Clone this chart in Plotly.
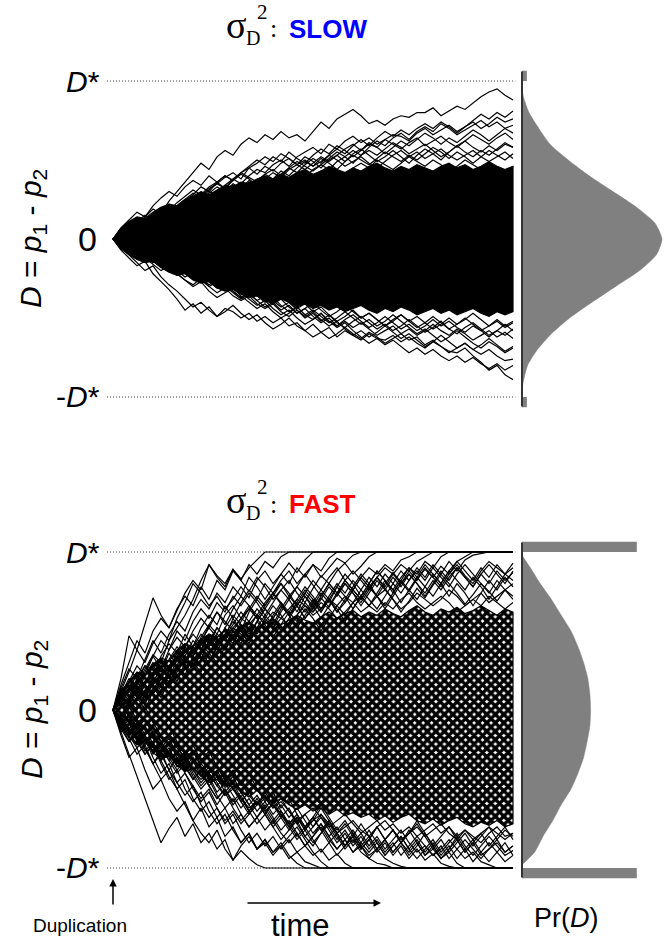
import plotly.graph_objects as go

# ---------------------------------------------------------------------------
# Data (D values in hundredths of D*, one value per time step 0..50)
# ---------------------------------------------------------------------------

# Slow divergence: envelope of the dense bundle of trajectories
SLOW_CORE_UPPER = [0, 7, 11, 14, 13, 17, 20, 22, 21, 25,
                   27, 30, 28, 31, 34, 33, 36, 35, 38, 40,
                   38, 41, 39, 42, 44, 41, 43, 46, 44, 42,
                   45, 43, 46, 48, 45, 43, 46, 44, 47, 45,
                   43, 46, 48, 45, 47, 44, 46, 49, 46, 44,
                   46]
SLOW_CORE_LOWER = [0, -6, -10, -13, -15, -14, -18, -21, -23, -22,
                   -26, -28, -27, -31, -33, -32, -35, -37, -36, -39,
                   -41, -38, -40, -43, -41, -44, -42, -45, -43, -46,
                   -44, -42, -45, -47, -44, -46, -43, -45, -48, -46,
                   -44, -47, -45, -48, -46, -44, -47, -49, -46, -48,
                   -46]

# Slow divergence: individual trajectories
SLOW_PATHS = [
    [0, 6, 10, 8, 14, 19, 16, 24, 30, 36,
     42, 48, 44, 52, 56, 53, 60, 64, 61, 66,
     63, 68, 64, 66, 62, 68, 74, 70, 76, 79,
     82, 78, 73, 75, 72, 76, 78, 77, 80, 80,
     83, 78, 81, 84, 82, 86, 90, 93, 95, 91,
     88],
    [0, -4, 2, 6, 4, 10, 14, 12, 18, 22,
     20, 26, 30, 28, 34, 38, 35, 40, 44, 42,
     47, 50, 46, 52, 55, 58, 54, 60, 57, 62,
     65, 61, 64, 60, 63, 66, 65, 62, 67, 70,
     66, 69, 72, 68, 71, 74, 70, 73, 77, 74,
     76],
    [0, 5, 3, 9, 13, 10, 17, 21, 18, 24,
     28, 33, 30, 36, 40, 37, 42, 46, 50, 47,
     52, 49, 55, 51, 48, 53, 57, 54, 59, 56,
     52, 56, 60, 58, 63, 60, 57, 61, 64, 59,
     62, 65, 61, 58, 62, 66, 63, 60, 64, 67,
     63],
    [0, 3, 7, 5, 11, 15, 12, 16, 21, 25,
     22, 27, 31, 35, 32, 38, 42, 39, 36, 41,
     44, 40, 45, 49, 46, 43, 47, 51, 55, 52,
     48, 53, 56, 53, 57, 61, 58, 54, 57, 60,
     56, 52, 55, 59, 62, 58, 55, 59, 56, 60,
     58],
    [0, -3, 1, 4, 2, 7, 10, 8, 13, 16,
     14, 19, 17, 22, 25, 23, 27, 30, 28, 33,
     36, 34, 38, 41, 39, 44, 47, 44, 49, 52,
     56, 53, 58, 62, 59, 64, 67, 63, 68, 71,
     68, 73, 70, 66, 69, 72, 75, 71, 74, 70,
     72],
    [0, 4, 8, 12, 9, 14, 18, 22, 19, 25,
     29, 27, 32, 35, 39, 42, 38, 45, 48, 52,
     49, 54, 51, 47, 50, 46, 49, 53, 50, 46,
     49, 52, 48, 45, 49, 53, 56, 52, 55, 51,
     54, 57, 53, 50, 53, 56, 52, 49, 52, 55,
     51],
    [0, 7, 12, 17, 14, 21, 26, 30, 27, 33,
     37, 34, 40, 36, 32, 37, 41, 38, 34, 30,
     34, 38, 35, 31, 36, 40, 43, 40, 37, 41,
     45, 48, 45, 50, 47, 44, 48, 52, 49, 46,
     50, 47, 43, 46, 50, 47, 44, 48, 45, 42,
     46],
    [0, 5, 9, 13, 10, 16, 20, 18, 23, 27,
     31, 28, 33, 36, 40, 37, 42, 45, 41, 46,
     43, 48, 51, 47, 52, 49, 45, 50, 53, 49,
     54, 57, 53, 49, 52, 56, 52, 48, 53, 57,
     54, 50, 55, 59, 55, 52, 56, 53, 57, 61,
     58],
    [0, 4, 2, 7, 11, 8, 13, 17, 14, 19,
     23, 20, 25, 29, 26, 31, 35, 32, 37, 41,
     38, 43, 40, 45, 49, 46, 51, 48, 44, 49,
     53, 50, 47, 51, 55, 52, 49, 53, 50, 54,
     58, 55, 51, 55, 52, 48, 52, 56, 53, 50,
     54],
    [0, 6, 4, 9, 7, 12, 16, 13, 18, 15,
     20, 24, 21, 26, 30, 34, 31, 36, 33, 38,
     42, 39, 44, 47, 44, 48, 52, 49, 53, 57,
     60, 56, 61, 58, 54, 58, 62, 59, 63, 67,
     64, 60, 64, 61, 65, 69, 66, 62, 66, 70,
     67],
    [0, 3, 7, 11, 15, 12, 17, 14, 19, 23,
     27, 24, 29, 33, 30, 35, 32, 37, 34, 39,
     36, 41, 45, 42, 47, 51, 48, 53, 57, 54,
     59, 63, 59, 64, 68, 65, 69, 66, 70, 73,
     70, 74, 71, 67, 71, 75, 79, 76, 80, 77,
     81],
    [0, -7, -12, -17, -14, -22, -27, -32, -38, -45,
     -41, -47, -43, -49, -44, -46, -50, -47, -52, -49,
     -53, -50, -55, -53, -58, -54, -59, -56, -62, -58,
     -61, -64, -60, -63, -64, -61, -65, -62, -66, -69,
     -65, -68, -71, -72, -69, -74, -78, -83, -80, -86,
     -89],
    [0, -4, -1, -6, -10, -7, -12, -16, -13, -19,
     -23, -20, -26, -30, -27, -33, -37, -34, -39, -43,
     -40, -45, -42, -47, -44, -49, -53, -50, -55, -52,
     -56, -53, -57, -61, -58, -55, -60, -64, -62, -67,
     -64, -68, -72, -69, -66, -70, -73, -70, -74, -77,
     -76],
    [0, -6, -10, -15, -20, -17, -24, -29, -33, -38,
     -43, -40, -45, -49, -46, -42, -47, -51, -48, -53,
     -57, -54, -50, -55, -58, -62, -59, -63, -60, -56,
     -60, -63, -59, -62, -66, -63, -60, -57, -61, -58,
     -54, -58, -61, -57, -60, -64, -61, -58, -62, -59,
     -63],
    [0, 3, -2, -5, -3, -8, -12, -9, -14, -18,
     -15, -20, -24, -21, -26, -30, -34, -31, -36, -40,
     -37, -42, -46, -43, -48, -51, -47, -52, -55, -51,
     -48, -52, -56, -53, -49, -53, -57, -54, -58, -55,
     -51, -55, -52, -56, -59, -55, -58, -62, -58, -61,
     -57],
    [0, -5, -9, -6, -11, -15, -12, -18, -22, -26,
     -30, -27, -33, -37, -34, -31, -36, -40, -44, -41,
     -46, -50, -47, -43, -48, -45, -49, -53, -50, -46,
     -50, -54, -51, -55, -52, -48, -52, -56, -60, -57,
     -61, -65, -62, -58, -62, -66, -69, -65, -68, -72,
     -69],
    [0, -3, -7, -11, -8, -13, -10, -15, -19, -16,
     -21, -25, -29, -26, -30, -34, -38, -35, -39, -36,
     -41, -38, -43, -47, -44, -40, -45, -49, -46, -42,
     -46, -50, -47, -51, -55, -52, -48, -52, -49, -53,
     -57, -54, -50, -54, -51, -47, -51, -55, -52, -56,
     -53],
    [0, -5, -9, -7, -12, -16, -20, -17, -22, -26,
     -29, -25, -30, -34, -31, -36, -39, -36, -41, -44,
     -41, -46, -49, -45, -50, -47, -52, -48, -53, -56,
     -52, -49, -53, -57, -54, -58, -55, -51, -55, -59,
     -56, -52, -57, -60, -56, -53, -57, -61, -58, -54,
     -58],
    [0, -3, -8, -5, -10, -14, -11, -16, -13, -18,
     -22, -19, -24, -28, -25, -30, -27, -32, -36, -33,
     -38, -35, -40, -44, -41, -46, -43, -48, -52, -49,
     -45, -50, -47, -51, -55, -51, -48, -52, -56, -53,
     -49, -53, -57, -54, -50, -54, -58, -55, -51, -55,
     -52],
    [0, -6, -4, -9, -13, -10, -15, -19, -23, -20,
     -25, -22, -27, -31, -28, -33, -37, -34, -30, -35,
     -39, -43, -40, -45, -49, -46, -51, -55, -52, -57,
     -61, -58, -62, -59, -55, -59, -63, -60, -64, -68,
     -65, -61, -65, -69, -66, -70, -67, -63, -67, -71,
     -68],
    [0, -4, -8, -12, -9, -14, -18, -15, -20, -24,
     -21, -26, -30, -27, -32, -29, -34, -38, -42, -39,
     -44, -48, -45, -50, -54, -51, -47, -52, -56, -53,
     -58, -62, -66, -63, -67, -64, -68, -72, -69, -73,
     -70, -74, -77, -74, -78, -75, -79, -82, -79, -83,
     -80],
]

# Fast divergence: envelope of the dense bundle
FAST_CORE_UPPER = [0, 12, 18, 24, 22, 29, 33, 31, 38, 42,
                   40, 45, 48, 46, 51, 49, 53, 56, 52, 55,
                   58, 54, 57, 60, 57, 55, 59, 62, 58, 61,
                   63, 59, 62, 60, 64, 61, 59, 63, 66, 62,
                   60, 64, 62, 65, 61, 63, 66, 63, 60, 64,
                   62]
FAST_CORE_LOWER = [0, -11, -17, -22, -20, -27, -31, -29, -35, -39,
                   -37, -42, -46, -44, -49, -47, -52, -55, -51, -56,
                   -59, -56, -60, -63, -60, -64, -62, -66, -63, -67,
                   -65, -68, -66, -70, -67, -71, -68, -66, -70, -72,
                   -69, -73, -70, -68, -72, -74, -71, -73, -70, -74,
                   -72]

# Fast divergence: trajectories; those reaching +/-D* stay there (absorbed)
FAST_PATHS = [
    [0, 12, 24, 38, 55, 71, 60, 52, 63, 74,
     82, 76, 92, 84, 78, 89, 83, 90, 95, 100] + [100] * 31,
    [0, 20, 47, 38, 30, 42, 50, 44, 58, 68,
     80, 74, 66, 72, 64, 70, 78, 71, 82, 88,
     80, 86, 93, 87, 95] + [100] * 26,
    [0, 10, 4, 16, 26, 35, 30, 44, 52, 60,
     70, 82, 92, 85, 80, 89, 82, 75, 84, 78,
     70, 76, 82, 74, 68, 77, 85, 80, 88, 93,
     86, 91, 97] + [100] * 18,
    [0, -8, 4, 12, 6, 18, 26, 20, 32, 40,
     34, 46, 54, 48, 60, 66, 58, 64, 72, 66,
     74, 80, 72, 78, 86, 79, 72, 80, 74, 68,
     76, 84, 78, 72, 80, 87, 81, 75, 83, 89,
     84, 78, 86, 92, 85, 80, 88, 94, 90, 86,
     93],
    [0, 9, 18, 10, 22, 30, 24, 36, 28, 40,
     48, 42, 54, 62, 56, 50, 58, 66, 60, 68,
     74, 67, 60, 66, 58, 64, 71, 65, 73, 80,
     74, 68, 76, 84, 77, 70, 62, 69, 77, 71,
     79, 86, 80, 74, 67, 73, 80, 75, 69, 76,
     72],
    [0, 6, -4, 8, 16, 10, 20, 14, 26, 34,
     28, 38, 46, 40, 52, 46, 56, 64, 58, 50,
     60, 68, 62, 70, 78, 72, 64, 70, 62, 68,
     76, 70, 78, 84, 78, 86, 80, 88, 82, 90,
     84, 91, 86, 94, 97] + [100] * 6,
    [0, 14, 26, 20, 32, 44, 36, 48, 56, 50,
     62, 70, 64, 74, 68, 78, 72, 84, 78, 70,
     78, 86, 80, 90, 84, 92, 88, 96] + [100] * 23,
    [0, -10, 2, 14, 8, 20, 12, 24, 34, 28,
     40, 32, 44, 52, 46, 58, 50, 62, 70, 64,
     72, 80, 74, 66, 74, 82, 76, 84, 90, 82,
     76, 84, 90, 86, 92, 88, 95, 97] + [100] * 13,
    [0, 8, 16, 8, 0, 12, 22, 16, 28, 22,
     34, 42, 36, 30, 40, 50, 44, 56, 48, 58,
     52, 62, 70, 62, 72, 66, 58, 66, 74, 82,
     76, 70, 78, 72, 64, 72, 80, 86, 80, 74,
     82, 76, 84, 90, 84, 78, 86, 80, 88, 82,
     87],
    [0, 12, 6, 18, 28, 22, 34, 42, 36, 48,
     40, 52, 60, 54, 66, 58, 68, 76, 70, 80,
     74, 82, 88, 80, 86, 92, 84, 90, 96, 93,
     98] + [100] * 20,
    [0, -6, 6, 0, 10, 20, 14, 26, 18, 30,
     38, 32, 44, 36, 48, 56, 50, 42, 52, 60,
     54, 64, 72, 66, 58, 66, 74, 68, 78, 86,
     80, 72, 80, 88, 82, 76, 84, 90, 86, 94,
     90, 97] + [100] * 9,
    [0, 10, 2, -6, 4, 14, 8, 18, 26, 20,
     30, 24, 36, 44, 38, 48, 42, 52, 60, 54,
     46, 54, 62, 56, 64, 58, 50, 58, 66, 60,
     68, 76, 70, 64, 72, 80, 74, 82, 88, 82,
     90, 84, 78, 86, 92, 86, 80, 74, 82, 76,
     80],
    [0, 10, 20, 12, 24, 34, 26, 38, 46, 40,
     50, 58, 52, 62, 54, 64, 72, 66, 58, 66,
     74, 68, 60, 52, 60, 68, 62, 70, 64, 56,
     64, 72, 80, 72, 66, 74, 82, 76, 70, 78,
     86, 80, 72, 80, 74, 66, 74, 82, 76, 84,
     78],
    [0, 6, 14, 22, 16, 28, 22, 32, 40, 34,
     44, 38, 48, 42, 52, 60, 54, 46, 56, 64,
     58, 50, 58, 66, 74, 68, 76, 70, 62, 70,
     78, 86, 80, 88, 82, 74, 82, 90, 84, 92,
     86, 80, 88, 94, 88, 82, 90, 84, 92, 86,
     90],
    [0, 12, 6, 18, 10, 22, 30, 24, 34, 42,
     36, 44, 52, 46, 38, 46, 54, 48, 56, 64,
     58, 66, 60, 68, 76, 70, 62, 70, 78, 72,
     64, 72, 66, 74, 82, 76, 68, 76, 84, 78,
     72, 80, 88, 82, 76, 84, 78, 70, 78, 86,
     82],
    [0, 8, 18, 28, 22, 34, 44, 38, 50, 44,
     56, 64, 58, 68, 62, 72, 66, 74, 68, 60,
     68, 76, 70, 78, 72, 64, 72, 80, 74, 82,
     88, 82, 76, 84, 90, 86, 92, 88, 94, 97,
     100] + [100] * 10,
    [0, 14, 8, 20, 28, 22, 32, 26, 36, 30,
     40, 48, 42, 52, 46, 54, 62, 56, 64, 58,
     66, 60, 52, 60, 68, 62, 70, 78, 72, 80,
     74, 66, 74, 82, 76, 84, 78, 86, 80, 72,
     80, 88, 82, 90, 84, 78, 86, 92, 86, 80,
     88],
    [0, 16, 30, 44, 36, 50, 58, 52, 64, 72,
     66, 78, 70, 82, 76, 88, 82, 92, 86, 94,
     90, 97, 100] + [100] * 28,
    [0, 4, 12, 6, 16, 10, 20, 14, 24, 32,
     26, 36, 30, 40, 48, 42, 52, 46, 56, 50,
     58, 66, 60, 68, 62, 70, 64, 72, 80, 74,
     82, 76, 84, 78, 86, 80, 88, 82, 90, 84,
     92, 86, 94, 88, 95, 98, 99] + [100] * 4,
    [0, 8, 14, 10, 18, 24, 20, 28, 34, 30,
     38, 44, 40, 48, 44, 52, 58, 54, 60, 56,
     62, 58, 64, 70, 66, 60, 64, 70, 66, 72,
     68, 62, 66, 72, 76, 70, 64, 68, 74, 70,
     66, 70, 76, 72, 66, 70, 74, 68, 72, 76,
     70],
    [0, -4, 6, 12, 8, 16, 22, 18, 26, 32,
     28, 36, 42, 38, 46, 52, 48, 44, 50, 56,
     52, 58, 54, 60, 66, 62, 68, 64, 58, 62,
     68, 72, 66, 62, 68, 64, 70, 74, 68, 64,
     68, 72, 68, 62, 66, 70, 66, 72, 68, 64,
     68],
    [0, -14, -28, -42, -56, -70, -84, -75, -68, -80,
     -72, -84, -78, -88, -82, -95, -89, -94, -98] + [-100] * 32,
    [0, -10, -4, -16, -26, -20, -32, -42, -50, -60,
     -70, -78, -84, -76, -88, -95, -86, -80, -88, -84,
     -92, -86, -80, -74, -82, -90, -96] + [-100] * 24,
    [0, -6, -14, -8, -18, -26, -20, -30, -38, -32,
     -42, -50, -44, -54, -62, -56, -66, -74, -68, -60,
     -68, -76, -70, -78, -86, -80, -72, -80, -88, -82,
     -90, -84, -76, -84, -92, -86, -80, -88, -94, -88,
     -82, -90, -84, -78, -86, -92, -86, -80, -86, -92,
     -89],
    [0, -12, -6, -18, -28, -22, -34, -44, -38, -50,
     -58, -52, -64, -72, -66, -76, -84, -78, -88, -82,
     -90, -84, -92, -97] + [-100] * 27,
    [0, 8, -2, -12, -6, -16, -24, -18, -28, -36,
     -30, -40, -48, -42, -52, -46, -56, -64, -58, -66,
     -74, -68, -76, -70, -80, -86, -78, -72, -80, -88,
     -82, -90, -94, -97, -98] + [-100] * 16,
    [0, -8, -16, -10, -20, -14, -24, -32, -26, -36,
     -44, -38, -48, -56, -50, -60, -54, -64, -72, -66,
     -58, -66, -74, -68, -76, -84, -78, -70, -78, -86,
     -80, -88, -82, -74, -82, -90, -84, -92, -86, -78,
     -86, -94, -88, -82, -90, -84, -92, -88, -82, -90,
     -86],
    [0, -4, -12, -6, 2, -8, -16, -10, -20, -28,
     -22, -32, -26, -36, -44, -38, -48, -40, -50, -58,
     -52, -62, -56, -66, -74, -68, -60, -68, -76, -70,
     -78, -86, -80, -88, -82, -76, -84, -90, -84, -92,
     -88, -94, -90, -97] + [-100] * 7,
    [0, -12, -20, -14, -24, -34, -28, -38, -30, -40,
     -48, -56, -50, -60, -52, -62, -70, -64, -56, -64,
     -72, -66, -74, -82, -76, -68, -76, -70, -78, -86,
     -80, -72, -80, -88, -82, -76, -84, -78, -72, -80,
     -88, -82, -90, -84, -78, -86, -80, -74, -82, -76,
     -80],
    [0, -6, -16, -24, -18, -30, -40, -34, -46, -54,
     -48, -60, -68, -62, -72, -66, -76, -84, -78, -86,
     -80, -88, -82, -90, -86, -92, -88, -95, -91, -97] + [-100] * 21,
    [0, -10, -2, -12, -22, -16, -26, -20, -30, -38,
     -32, -42, -36, -46, -54, -48, -58, -66, -60, -52,
     -60, -68, -62, -72, -80, -74, -66, -74, -82, -76,
     -84, -78, -86, -80, -88, -82, -76, -84, -90, -86,
     -92, -88, -82, -88, -94, -90, -96, -98, -100, -100,
     -100],
    [0, -10, -20, -12, -24, -34, -26, -38, -46, -40,
     -50, -58, -52, -62, -70, -64, -72, -66, -58, -66,
     -74, -82, -76, -68, -76, -70, -62, -70, -78, -72,
     -80, -88, -82, -74, -82, -76, -84, -78, -70, -78,
     -86, -80, -74, -82, -90, -84, -78, -86, -80, -74,
     -82],
    [0, -6, -14, -22, -16, -28, -22, -32, -40, -34,
     -44, -38, -48, -56, -50, -58, -52, -60, -68, -62,
     -70, -64, -72, -80, -74, -82, -90, -84, -92, -86,
     -78, -86, -94, -88, -82, -90, -84, -76, -84, -92,
     -86, -94, -88, -80, -88, -96, -90, -84, -90, -96,
     -92],
    [0, -12, -6, -18, -10, -22, -30, -24, -34, -28,
     -38, -46, -40, -48, -42, -50, -58, -52, -60, -54,
     -62, -56, -64, -72, -66, -74, -68, -76, -84, -78,
     -86, -80, -88, -82, -90, -84, -92, -86, -80, -86,
     -92, -86, -94, -88, -82, -88, -94, -88, -84, -90,
     -86],
    [0, -8, -18, -28, -22, -34, -44, -38, -50, -44,
     -56, -64, -58, -68, -62, -72, -66, -74, -68, -76,
     -70, -78, -84, -78, -86, -80, -74, -82, -88, -82,
     -90, -86, -92, -88, -94, -97, -99] + [-100] * 14,
    [0, -14, -8, -20, -28, -22, -32, -26, -36, -30,
     -40, -48, -42, -52, -46, -54, -62, -56, -64, -58,
     -66, -60, -68, -62, -70, -78, -72, -80, -74, -82,
     -76, -84, -90, -84, -92, -86, -80, -88, -82, -90,
     -84, -92, -86, -94, -88, -82, -90, -96, -90, -84,
     -92],
    [0, -16, -30, -24, -38, -50, -44, -56, -64, -58,
     -70, -62, -74, -68, -80, -74, -84, -78, -88, -82,
     -90, -86, -94, -90, -96, -98, -100] + [-100] * 24,
    [0, -4, -12, -6, -16, -10, -20, -28, -22, -32,
     -26, -36, -44, -38, -48, -42, -52, -60, -54, -62,
     -56, -64, -72, -66, -74, -68, -76, -84, -78, -86,
     -80, -88, -82, -90, -84, -92, -86, -94, -88, -95,
     -91, -97, -99] + [-100] * 8,
    [0, -8, -14, -10, -18, -24, -20, -28, -34, -30,
     -38, -44, -40, -48, -54, -50, -56, -62, -58, -64,
     -60, -66, -72, -68, -74, -70, -66, -72, -78, -74,
     -70, -76, -80, -74, -70, -76, -82, -78, -74, -80,
     -76, -72, -78, -82, -76, -80, -84, -78, -74, -80,
     -78],
    [0, 4, -4, -10, -6, -14, -20, -16, -24, -30,
     -26, -34, -40, -36, -44, -50, -46, -54, -60, -56,
     -62, -58, -64, -70, -66, -62, -68, -74, -70, -66,
     -72, -78, -74, -70, -76, -72, -78, -74, -80, -76,
     -72, -78, -74, -80, -76, -82, -78, -74, -78, -82,
     -78],
]

# Final distributions Pr(D), D in units of D*
SLOW_DIST_D = [0.95, 0.9, 0.8, 0.7, 0.6, 0.5, 0.4, 0.3, 0.2, 0.1, 0.0,
               -0.1, -0.2, -0.3, -0.4, -0.5, -0.6, -0.7, -0.8, -0.9, -0.95]
SLOW_DIST_PR = [0.0, 0.01, 0.05, 0.12, 0.20, 0.33, 0.48, 0.65, 0.82, 0.95, 1.0,
                0.96, 0.84, 0.67, 0.50, 0.34, 0.21, 0.11, 0.04, 0.01, 0.0]
FAST_DIST_D = [0.98, 0.9, 0.8, 0.7, 0.6, 0.5, 0.4, 0.3, 0.2, 0.1, 0.0,
               -0.1, -0.2, -0.3, -0.4, -0.5, -0.6, -0.7, -0.8, -0.9, -0.98]
FAST_DIST_PR = [0.0, 0.06, 0.13, 0.21, 0.28, 0.35, 0.40, 0.44, 0.47, 0.485, 0.49,
                0.485, 0.465, 0.44, 0.40, 0.35, 0.28, 0.22, 0.15, 0.09, 0.0]
# Probability mass absorbed at +D* and -D*
SLOW_ABSORBED = [0.035, 0.035]
FAST_ABSORBED = [0.82, 0.82]
D_STAR = 1.0

# ---------------------------------------------------------------------------
W, H = 670, 944


def fx(px):
    return px / W


def fy(py):
    return 1 - py / H


fig = go.Figure()


def add_panel(core_up, core_lo, paths, yref, pattern=None):
    t = list(range(len(core_up)))
    fig.add_trace(go.Scatter(
        x=t + t[::-1],
        y=[v / 100 for v in core_up] + [v / 100 for v in core_lo][::-1],
        mode="lines", fill="toself", fillcolor="black", fillpattern=pattern,
        line=dict(color="black", width=1.2),
        xaxis="x", yaxis=yref, hoverinfo="skip", showlegend=False))
    for p in paths:
        fig.add_trace(go.Scatter(
            x=list(range(len(p))), y=[v / 100 for v in p], mode="lines",
            line=dict(color="black", width=1.2),
            xaxis="x", yaxis=yref, hoverinfo="skip", showlegend=False))


def add_distribution(dvals, prvals, absorbed, yref):
    xs = [0.0] + prvals + [0.0]
    ys = [dvals[0]] + dvals + [dvals[-1]]
    fig.add_trace(go.Scatter(
        x=xs, y=ys, mode="lines", fill="toself", fillcolor="#808080",
        line=dict(color="#808080", width=0.5, shape="spline", smoothing=0.6),
        xaxis="x3", yaxis=yref, hoverinfo="skip", showlegend=False))
    fig.add_trace(go.Bar(
        x=absorbed, y=[D_STAR + 0.0325, -D_STAR - 0.0325], base=0,
        orientation="h", width=0.065, marker=dict(color="#808080", line=dict(width=0)),
        xaxis="x3", yaxis=yref, hoverinfo="skip", showlegend=False))


# the fast bundle is a tangled black mesh with small white gaps
fast_texture = dict(shape="x", fgcolor="black", bgcolor="white",
                    size=6, solidity=0.8, fillmode="replace")

add_panel(SLOW_CORE_UPPER, SLOW_CORE_LOWER, SLOW_PATHS, "y")
add_panel(FAST_CORE_UPPER, FAST_CORE_LOWER, FAST_PATHS, "y2", fast_texture)
add_distribution(SLOW_DIST_D, SLOW_DIST_PR, SLOW_ABSORBED, "y")
add_distribution(FAST_DIST_D, FAST_DIST_PR, FAST_ABSORBED, "y2")

shapes = []
for yref in ("y", "y2"):
    for s in (1, -1):
        shapes.append(dict(type="line", xref="x", yref=yref, x0=-0.75, x1=50.3,
                           y0=s * D_STAR, y1=s * D_STAR, layer="below",
                           line=dict(color="#444444", width=1, dash="1px,2px")))
    shapes.append(dict(type="line", xref="x3", yref=yref, x0=0, x1=0,
                       y0=-1.06, y1=1.06, line=dict(color="#333333", width=2)))

SANS = "Liberation Sans, Arial, sans-serif"
SERIF = "Liberation Serif, Times New Roman, serif"

ann = []


def text(x, y, s, size, family=SANS, xa="center", ya="middle", angle=0, color="black"):
    ann.append(dict(x=fx(x), y=fy(y), xref="paper", yref="paper", text=s,
                    showarrow=False, xanchor=xa, yanchor=ya, textangle=angle,
                    font=dict(size=size, family=family, color=color)))


# panel titles: sigma_D^2 : SLOW / FAST
for dy, word, col in ((0, "SLOW", "#0000ff"), (475, "FAST", "#ff0000")):
    text(224, 25 + dy, "σ", 38, SERIF, xa="left")
    text(244, 38 + dy, "D", 20, SERIF, xa="left")
    text(255, 12 + dy, "2", 21, SERIF, xa="left")
    text(268, 29 + dy, ":", 26, SERIF, xa="left")
    text(287, 29 + dy, "<b>%s</b>" % word, 26, SANS, xa="left", color=col)

for y0 in (239, 710):
    text(102, y0 - 158, "<i>D</i>*", 30, xa="right")
    text(102, y0 + 157, "-<i>D</i>*", 30, xa="right")
    text(87, y0, "0", 34)
    text(33, y0, "<i>D</i> = <i>p</i><sub>1</sub> - <i>p</i><sub>2</sub>", 30, angle=-90)

text(80, 925, "Duplication", 19)
text(300, 925, "time", 31)
text(566, 918, "Pr(<i>D</i>)", 27)

# arrows
ann.append(dict(x=fx(113), y=fy(879), xref="paper", yref="paper", text="",
                showarrow=True, ax=0, ay=27, arrowhead=2, arrowsize=1,
                arrowwidth=1.5, arrowcolor="black"))
ann.append(dict(x=fx(381), y=fy(903), xref="paper", yref="paper", text="",
                showarrow=True, ax=-135, ay=0, arrowhead=2, arrowsize=1,
                arrowwidth=1.5, arrowcolor="black"))

hidden = dict(visible=False, showgrid=False, zeroline=False, fixedrange=True)
fig.update_layout(
    width=W, height=H, margin=dict(l=0, r=0, t=0, b=0),
    paper_bgcolor="white", plot_bgcolor="rgba(0,0,0,0)",
    showlegend=False, hovermode=False, barmode="overlay",
    xaxis=dict(domain=[fx(105), fx(521)], range=[-1, 51], **hidden),
    xaxis3=dict(domain=[fx(519), fx(670)], range=[-3 / 140, 148 / 140], **hidden),
    yaxis=dict(domain=[fy(412.8), fy(65.2)], range=[-1.1, 1.1], **hidden),
    yaxis2=dict(domain=[fy(883.8), fy(536.2)], range=[-1.1, 1.1], **hidden),
    shapes=shapes, annotations=ann,
)

fig.write_html("out.html")
